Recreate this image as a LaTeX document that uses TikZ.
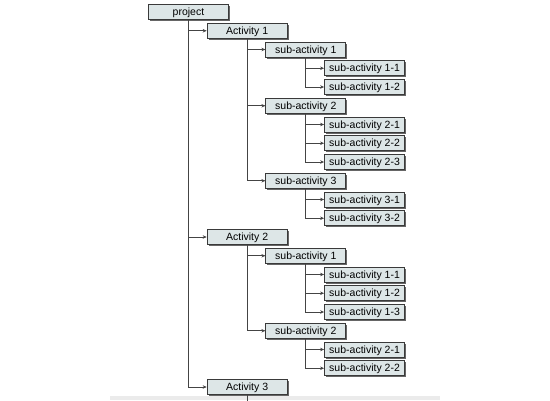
\documentclass[tikz,border=0pt]{standalone}
\usepackage{fontspec}
\setmainfont{Liberation Sans}
\usetikzlibrary{shadows,arrows.meta,calc}
\definecolor{boxfill}{HTML}{DDE6E7}
\definecolor{boxline}{HTML}{3A3A3A}
\definecolor{conn}{HTML}{444444}
\tikzset{
  tbox/.style={draw=boxline, line width=0.9pt, fill=boxfill, minimum width=80pt, minimum height=15pt,
    inner sep=0pt, anchor=west, font=\fontsize{10.5}{12}\selectfont, text height=9.2pt, text depth=2pt,
    drop shadow={shadow xshift=1.6pt, shadow yshift=-1.6pt, fill=black!60, opacity=1}},
  conn/.style={draw=conn, line width=1pt, -{Stealth[length=4pt,width=3.5pt]}}
}
\newcommand{\rowy}[1]{12+18.75*#1}
\newcommand{\colx}[1]{148+58.7*#1}
\begin{document}
\begin{tikzpicture}[x=1pt,y=-1pt]
\useasboundingbox (0,0) rectangle (550,400);
\fill[black!8] (110,396) rectangle (440,400);
\node[tbox] (p) at ({\colx{0}},{\rowy{0}}) {project};
\node[tbox] (a1) at ({\colx{1}},{\rowy{1}}) {Activity 1};
\node[tbox] (a1s1) at ({\colx{2}},{\rowy{2}}) {sub-activity 1};
\node[tbox] (a1s11) at ({\colx{3}},{\rowy{3}}) {sub-activity 1-1};
\node[tbox] (a1s12) at ({\colx{3}},{\rowy{4}}) {sub-activity 1-2};
\node[tbox] (a1s2) at ({\colx{2}},{\rowy{5}}) {sub-activity 2};
\node[tbox] (a1s21) at ({\colx{3}},{\rowy{6}}) {sub-activity 2-1};
\node[tbox] (a1s22) at ({\colx{3}},{\rowy{7}}) {sub-activity 2-2};
\node[tbox] (a1s23) at ({\colx{3}},{\rowy{8}}) {sub-activity 2-3};
\node[tbox] (a1s3) at ({\colx{2}},{\rowy{9}}) {sub-activity 3};
\node[tbox] (a1s31) at ({\colx{3}},{\rowy{10}}) {sub-activity 3-1};
\node[tbox] (a1s32) at ({\colx{3}},{\rowy{11}}) {sub-activity 3-2};
\node[tbox] (a2) at ({\colx{1}},{\rowy{12}}) {Activity 2};
\node[tbox] (a2s1) at ({\colx{2}},{\rowy{13}}) {sub-activity 1};
\node[tbox] (a2s11) at ({\colx{3}},{\rowy{14}}) {sub-activity 1-1};
\node[tbox] (a2s12) at ({\colx{3}},{\rowy{15}}) {sub-activity 1-2};
\node[tbox] (a2s13) at ({\colx{3}},{\rowy{16}}) {sub-activity 1-3};
\node[tbox] (a2s2) at ({\colx{2}},{\rowy{17}}) {sub-activity 2};
\node[tbox] (a2s21) at ({\colx{3}},{\rowy{18}}) {sub-activity 2-1};
\node[tbox] (a2s22) at ({\colx{3}},{\rowy{19}}) {sub-activity 2-2};
\node[tbox] (a3) at ({\colx{1}},{\rowy{20}}) {Activity 3};
\coordinate (a3end) at ($(a3.south)+(0,6)$);
\foreach \pa/\kid in {p/a1,p/a2,p/a3,
  a1/a1s1,a1/a1s2,a1/a1s3,
  a1s1/a1s11,a1s1/a1s12,
  a1s2/a1s21,a1s2/a1s22,a1s2/a1s23,
  a1s3/a1s31,a1s3/a1s32,
  a2/a2s1,a2/a2s2,
  a2s1/a2s11,a2s1/a2s12,a2s1/a2s13,
  a2s2/a2s21,a2s2/a2s22}
  \draw[conn] (\pa.south) |- (\kid.west);
\draw[draw=conn, line width=1pt] (a3.south) -- (a3end);
\end{tikzpicture}
\end{document}
